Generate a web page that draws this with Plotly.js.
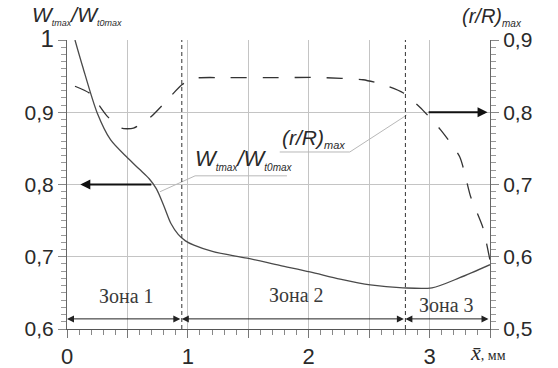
<!DOCTYPE html>
<html>
<head>
<meta charset="utf-8">
<script src="https://cdn.plot.ly/plotly-3.0.1.min.js"></script>
<style>html,body{margin:0;padding:0;background:#fff;}#chart{width:558px;height:368px;}</style>
</head>
<body>
<div id="chart"></div>
<script>
// ---- data ----
const xW = [0.066, 0.13, 0.25, 0.36, 0.5, 0.6, 0.68, 0.74, 0.8, 0.86, 0.92, 0.98, 1.05, 1.21, 1.49, 1.76, 2.01, 2.26, 2.51, 2.78, 3.02, 3.25, 3.5];
const wRatio = [1.0, 0.963, 0.899, 0.862, 0.837, 0.821, 0.808, 0.794, 0.771, 0.746, 0.731, 0.722, 0.716, 0.707, 0.698, 0.688, 0.679, 0.669, 0.661, 0.657, 0.657, 0.671, 0.689];
const xR = [0.066, 0.19, 0.33, 0.45, 0.55, 0.69, 0.83, 0.95, 1.05, 1.3, 1.7, 2.1, 2.45, 2.62, 2.78, 2.92, 3.09, 3.25, 3.34, 3.44, 3.5];
const rRatio = [0.836, 0.826, 0.795, 0.778, 0.778, 0.793, 0.817, 0.838, 0.847, 0.848, 0.848, 0.848, 0.845, 0.838, 0.827, 0.807, 0.776, 0.738, 0.683, 0.641, 0.595];
const zoneBounds = [0, 0.95, 2.8, 3.5];
const zoneLabels = ['Зона 1', 'Зона 2', 'Зона 3'];
const zoneLabelX = [0.49, 1.9, 3.14];
const zoneLabelY = [0.646, 0.647, 0.633];
const zoneArrowY = 0.614;
const xTickVals = [0, 0.5, 1, 1.5, 2, 2.5, 3, 3.5];
const xTickText = ['0', '', '1', '', '2', '', '3', ''];
const yLeftVals = [0.6, 0.7, 0.8, 0.9, 1.0];
const yLeftText = ['0,6', '0,7', '0,8', '0,9', '<span style="font-size:24px">1</span>'];
const yRightVals = [0.5, 0.6, 0.7, 0.8, 0.9];
const yRightText = ['0,5', '0,6', '0,7', '0,8', '0,9'];
// label leader lines (annotation geometry)
const leaderWx = [0.77, 1.06, 1.82];
const leaderWy = [0.790, 0.812, 0.812];
const leaderRx = [1.76, 2.34, 2.81];
const leaderRy = [0.845, 0.845, 0.896];

const TXT = '#2a2a2a';
const GRID = '#c4c4c4';
const SANS = 'Liberation Sans, Arial, sans-serif';
const SERIF = 'Liberation Serif, Times New Roman, serif';

const traces = [
  {x: leaderWx, y: leaderWy, xaxis: 'x', yaxis: 'y', mode: 'lines', line: {color: '#b8b8b8', width: 1}, hoverinfo: 'skip', showlegend: false},
  {x: leaderRx, y: leaderRy, xaxis: 'x', yaxis: 'y', mode: 'lines', line: {color: '#b8b8b8', width: 1}, hoverinfo: 'skip', showlegend: false},
  {x: xW, y: wRatio, xaxis: 'x', yaxis: 'y', mode: 'lines', line: {color: '#4a4a4a', width: 1.3, shape: 'spline', smoothing: 0.8}, showlegend: false},
  {x: xR, y: rRatio, xaxis: 'x', yaxis: 'y2', mode: 'lines', line: {color: '#333', width: 1.3, dash: '16px,16px', shape: 'spline', smoothing: 0.6}, showlegend: false}
];

const annotations = [];
// zone arrows
for (let i = 0; i < zoneLabels.length; i++) {
  annotations.push({x: zoneBounds[i], y: zoneArrowY, ax: zoneBounds[i + 1], ay: zoneArrowY,
    xref: 'x', yref: 'y', axref: 'x', ayref: 'y', text: '', showarrow: true,
    arrowhead: 2, startarrowhead: 2, arrowside: 'end+start', arrowsize: 1.4, startarrowsize: 1.4, arrowwidth: 1, arrowcolor: '#222'});
  annotations.push({x: zoneLabelX[i], y: zoneLabelY[i], xref: 'x', yref: 'y', text: zoneLabels[i], showarrow: false,
    font: {family: SERIF, size: 20, color: '#3a3a3a'}});
}
// axis pointer arrows
annotations.push({x: 0.11, y: 0.8, ax: 0.71, ay: 0.8, xref: 'x', yref: 'y', axref: 'x', ayref: 'y', text: '', showarrow: true,
  arrowhead: 2, arrowsize: 1, arrowwidth: 2, arrowcolor: '#111'});
annotations.push({x: 3.48, y: 0.8, ax: 2.98, ay: 0.8, xref: 'x', yref: 'y2', axref: 'x', ayref: 'y2', text: '', showarrow: true,
  arrowhead: 2, arrowsize: 1, arrowwidth: 2, arrowcolor: '#111'});
// curve labels
annotations.push({x: 1.04, y: 0.834, xref: 'x', yref: 'y', xanchor: 'left', yanchor: 'middle', showarrow: false,
  text: '<i>W</i><sub><i><span style="font-size:10px">tmax</span></i></sub><i>/W</i><sub><i><span style="font-size:10px">t0max</span></i></sub>',
  font: {family: SANS, size: 22, color: TXT}});
annotations.push({x: 1.76, y: 0.864, xref: 'x', yref: 'y', xanchor: 'left', yanchor: 'middle', showarrow: false,
  text: '<i>(r/R)</i><sub><i><span style="font-size:11px">max</span></i></sub>',
  font: {family: SANS, size: 21, color: TXT}});
// axis titles
annotations.push({x: -0.087, y: 1.085, xref: 'paper', yref: 'paper', xanchor: 'left', yanchor: 'middle', showarrow: false,
  text: '<i>W</i><sub><i><span style="font-size:9px">tmax</span></i></sub><i>/W</i><sub><i><span style="font-size:9px">t0max</span></i></sub>',
  font: {family: SANS, size: 21, color: TXT}});
annotations.push({x: 0.929, y: 1.078, xref: 'paper', yref: 'paper', xanchor: 'left', yanchor: 'middle', showarrow: false,
  text: '<i>(r/R)</i><sub><i><span style="font-size:10px">max</span></i></sub>',
  font: {family: SANS, size: 20, color: TXT}});
annotations.push({x: 0.948, y: -0.08, xref: 'paper', yref: 'paper', xanchor: 'left', yanchor: 'middle', showarrow: false,
  text: '<i>x̄</i><span style="font-size:14px">, мм</span>',
  font: {family: SERIF, size: 22, color: TXT}});

const shapes = [];
for (const b of zoneBounds.slice(1, -1)) {
  shapes.push({type: 'line', xref: 'x', yref: 'paper', x0: b, x1: b, y0: 0, y1: 1,
    line: {color: '#333', width: 1, dash: '4px,3px'}});
}

const layout = {
  width: 558, height: 368,
  margin: {l: 67, r: 68, t: 40, b: 39},
  paper_bgcolor: '#fff', plot_bgcolor: '#fff',
  separators: ', ',
  showlegend: false,
  xaxis: {range: [0, 3.5], tickmode: 'array', tickvals: xTickVals, ticktext: xTickText,
    showgrid: true, gridcolor: GRID, gridwidth: 1, zeroline: false,
    showline: true, linecolor: '#555', linewidth: 1,
    ticks: 'outside', ticklen: 8, tickcolor: '#777', tickwidth: 1,
    minor: {tickmode: 'linear', tick0: 0, dtick: 0.1, ticks: 'outside', ticklen: 5, tickcolor: '#888', showgrid: false},
    tickfont: {family: SANS, size: 22, color: TXT}, fixedrange: true},
  yaxis: {range: [0.6, 1.0], tickmode: 'array', tickvals: yLeftVals, ticktext: yLeftText,
    showgrid: true, gridcolor: GRID, gridwidth: 1, zeroline: false,
    showline: true, linecolor: '#666', linewidth: 1,
    ticks: 'outside', ticklen: 8, tickcolor: '#888', tickwidth: 1,
    minor: {tickmode: 'linear', tick0: 0.6, dtick: 0.01, ticks: 'outside', ticklen: 5, tickcolor: '#999', showgrid: false},
    tickfont: {family: SANS, size: 21, color: TXT}, fixedrange: true},
  yaxis2: {range: [0.5, 0.9], overlaying: 'y', side: 'right', anchor: 'x', tickmode: 'array', tickvals: yRightVals, ticktext: yRightText,
    showgrid: false, zeroline: false,
    showline: true, linecolor: '#666', linewidth: 1,
    ticks: 'outside', ticklen: 8, tickcolor: '#888', tickwidth: 1,
    minor: {tickmode: 'linear', tick0: 0.5, dtick: 0.01, ticks: 'outside', ticklen: 5, tickcolor: '#999', showgrid: false},
    tickfont: {family: SANS, size: 21, color: TXT}, fixedrange: true},
  annotations: annotations,
  shapes: shapes
};

Plotly.newPlot('chart', traces, layout, {staticPlot: true, displayModeBar: false});
</script>
</body>
</html>
